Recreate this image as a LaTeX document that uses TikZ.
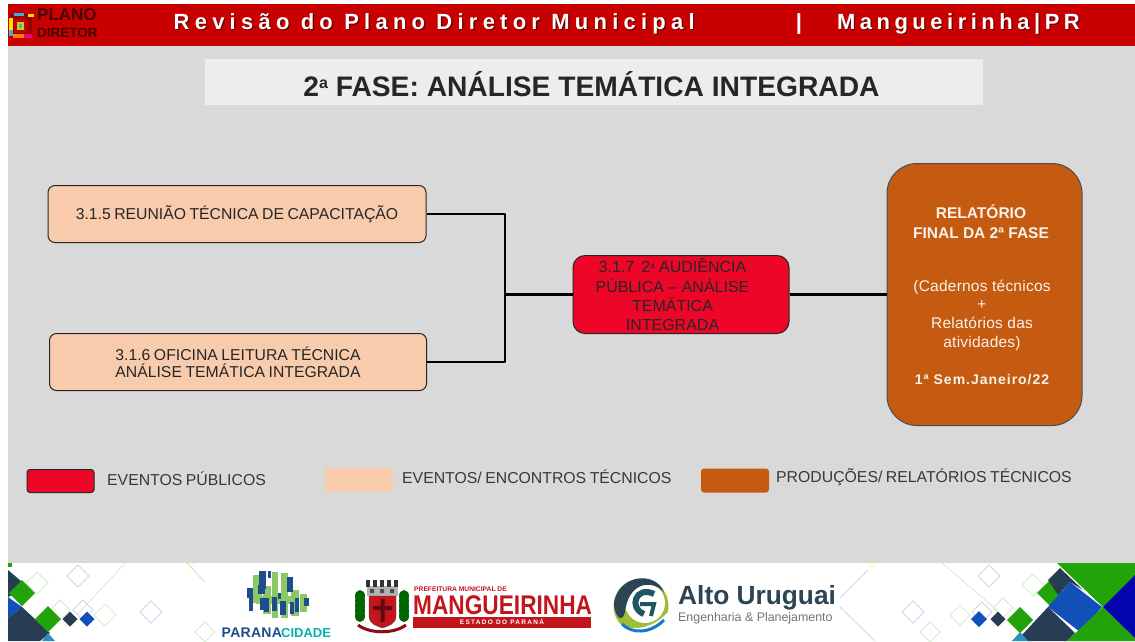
\documentclass[tikz,border=0pt]{standalone}
\usepackage{fontspec}
\setmainfont{Liberation Sans}
\newfontfamily\tightf[WordSpace=0.4]{Liberation Sans}
\newfontfamily\legf[WordSpace=0.8]{Liberation Sans}
\usetikzlibrary{calc}
\definecolor{hdr}{HTML}{C90000}
\definecolor{pg}{HTML}{D9D9D9}
\definecolor{titlebg}{HTML}{EDEDED}
\definecolor{peach}{HTML}{F8CBAD}
\definecolor{redev}{HTML}{EE0628}
\definecolor{rust}{HTML}{C55A11}
\definecolor{dgreen}{HTML}{22A30A}
\definecolor{navy}{HTML}{263D54}
\definecolor{mblue}{HTML}{1150B8}
\definecolor{dblue}{HTML}{0505AE}
\definecolor{lgreen}{HTML}{D5EBCF}
\definecolor{lblue}{HTML}{D2D2F0}
\definecolor{auDark}{HTML}{2D4454}
\definecolor{auGreen}{HTML}{9CBE35}
\definecolor{munRed}{HTML}{C3161C}
\definecolor{pcGreen}{HTML}{8CC866}
\definecolor{pcBlue}{HTML}{1E4C8C}
\tikzset{
 x=1pt,y=-1pt,
 txt/.style={font=\tightf\fontsize{15.75}{17.5}\selectfont,text=black!85,align=center,inner sep=0pt},
 evbox/.style={draw=black!85,line width=1pt,rounded corners=7pt,fill=peach,txt},
 redbox/.style={draw=black!85,line width=1pt,rounded corners=12pt,fill=redev},
 rustbox/.style={draw=black!70,line width=1pt,rounded corners=30pt,fill=rust,inner sep=0pt},
 link/.style={draw=black,line width=2.7pt,line join=round},
 legtxt/.style={font=\legf\fontsize{15.8}{18}\selectfont,text=black!78,anchor=west,inner sep=0pt},
 rusttxt/.style={text=white!92!rust,align=center,inner sep=0pt},
 hdrtxt/.style={font=\bfseries\fontsize{22}{23}\selectfont,inner sep=0pt},
}
\newcommand{\dia}[4]{\path[#4] (#1-#3,#2) -- (#1,#2-#3) -- (#1+#3,#2) -- (#1,#2+#3) -- cycle;}
\begin{document}
\begin{tikzpicture}
\useasboundingbox (0,0) rectangle (1135,641);
\fill[white] (0,0) rectangle (1135,641);
\fill[pg] (8,46) rectangle (1135,563);
\fill[hdr] (8,4) rectangle (1135,46);
% header logo
\fill[red!60!black,rounded corners=3pt] (9,14) rectangle (32,38);
\fill[yellow!85!orange] (9,18) rectangle (13,30);
\fill[cyan!70!gray] (9,30) rectangle (13,36);
\fill[orange] (13,34) rectangle (24,38);
\fill[magenta!70!red] (24,34) rectangle (32,38);
\fill[cyan!70!gray] (14,13) rectangle (24,16);
\fill[yellow!85!orange] (28,14) rectangle (34,17);
\fill[hdr] (14,19) rectangle (27,33);
\fill[yellow!70!green] (17,22) rectangle (24,30);
\fill[cyan!50!gray] (19,24) rectangle (22,28);
\node[font=\bfseries\fontsize{17}{17}\selectfont,text=black!72!red,anchor=west,inner sep=0pt] (lg1) at (37,15) {PLANO};
\node[font=\bfseries\fontsize{13.5}{14}\selectfont,text=black!72!red,anchor=west,inner sep=0pt] (lg2) at (37,33) {DIRETOR};
% header text
\node[hdrtxt,text=black!60!red,anchor=west] at (174.8,25) {\addfontfeature{LetterSpace=23.8}Revisão do Plano Diretor Municipal};
\node[hdrtxt,text=white,anchor=west] (h1) at (173.5,23.8) {\addfontfeature{LetterSpace=23.8}Revisão do Plano Diretor Municipal};
\node[hdrtxt,text=white,anchor=center] (h2) at (799,24) {|};
\node[hdrtxt,text=black!60!red,anchor=west] at (838,25) {\addfontfeature{LetterSpace=20.5}Mangueirinha|PR};
\node[hdrtxt,text=white,anchor=west] (h3) at (836.8,23.8) {\addfontfeature{LetterSpace=20.5}Mangueirinha|PR};
% title
\node[fill=titlebg,minimum width=778pt,minimum height=46pt,inner sep=0pt] (titlebar) at (594,82) {};
\node[font=\bfseries\fontsize{28.2}{30}\selectfont,text=black!85,inner sep=0pt] (title) at (591.5,84) {2\raisebox{.55ex}{\fontsize{16}{16}\selectfont a} FASE: ANÁLISE TEMÁTICA INTEGRADA};
% boxes
\node[evbox,minimum width=378pt,minimum height=57pt] (a) at (237,214) {3.1.5 REUNIÃO TÉCNICA DE CAPACITAÇÃO};
\node[evbox,minimum width=377pt,minimum height=57pt] (b) at (238,362) {3.1.6 OFICINA LEITURA TÉCNICA\\ANÁLISE TEMÁTICA INTEGRADA};
\node[redbox,minimum width=216pt,minimum height=78pt] (c) at (681,294.5) {};
\node[font=\fontsize{16}{19.3}\selectfont,align=center,inner sep=0pt,text=black!85] (ct) at (672.5,295) {3.1.7 \,2\raisebox{.5ex}{\fontsize{8}{8}\selectfont a} AUDIÊNCIA\\PÚBLICA – ANÁLISE\\TEMÁTICA\\INTEGRADA};
\node[rustbox,minimum width=195pt,minimum height=262pt] (d) at (984.5,294.5) {};
\node[rusttxt,font=\bfseries\fontsize{15.5}{20}\selectfont] (d1) at (981,221.5) {RELATÓRIO\\FINAL DA 2ª FASE};
\node[rusttxt,font=\fontsize{15.5}{18.7}\selectfont\addfontfeature{LetterSpace=1.5}] (d2) at (982,315) {(Cadernos técnicos\\+\\Relatórios das\\atividades)};
\node[rusttxt,font=\bfseries\fontsize{14}{16}\selectfont\addfontfeature{LetterSpace=7}] (d3) at (982,380) {1ª Sem.Janeiro/22};
% connectors
\coordinate (j) at (505,294.5);
\draw[link] (a.east) -| (j);
\draw[link] (b.east) -| (j);
\draw[link] (j) -- (c.west);
\draw[link] (c.east) -- (d.west);
% legend
\node[draw=black!85,line width=1pt,rounded corners=3pt,fill=redev,minimum width=67pt,minimum height=23pt,inner sep=0pt] (l1) at (60.5,481) {};
\node[legtxt] (lt1) at (107,479) {EVENTOS PÚBLICOS};
\node[fill=peach,rounded corners=3pt,minimum width=68pt,minimum height=24pt,inner sep=0pt] (l2) at (358.5,479.5) {};
\node[legtxt] (lt2) at (402,477) {EVENTOS/ ENCONTROS TÉCNICOS};
\node[fill=rust,rounded corners=3pt,minimum width=68pt,minimum height=24pt,inner sep=0pt] (l3) at (735,480.5) {};
\node[legtxt] (lt3) at (776,477) {PRODUÇÕES/ RELATÓRIOS TÉCNICOS};
% footer decoration
\begin{scope}
\clip (8,563) rectangle (1135,641);
\foreach \px/\py/\r in {37/583/11,60/610/10,105/615/11,1033/585/11,960/615/10,1003/608/10,205/632/10,930/632/10}{\dia{\px}{\py}{\r}{draw=lgreen,line width=.8pt}}
\foreach \px/\py/\r in {78/576/11,151/612/11,83/610/10,989/576/11,913/612/11,982/612/10}{\dia{\px}{\py}{\r}{draw=lblue,line width=1pt}}
\draw[lgreen,line width=.8pt] (125,563) -- (77,615);
\draw[lgreen,line width=.8pt] (942,563) -- (997,610);
\draw[lblue,line width=.8pt] (187,563) -- (205,582);
\draw[lblue,line width=.8pt] (868,570) -- (840,598);
\draw[lblue,line width=.8pt] (840,607) -- (875,641);
\draw[yellow!40,line width=.8pt] (186,563) -- (190,567) -- (194,563);
\draw[yellow!40,line width=.8pt] (868,563) -- (872,567) -- (876,563);
% left corner
\fill[navy] (8,570) -- (28,587) -- (8,597) -- cycle;
\fill[dgreen] (8,563) rectangle (12,567);
\dia{22}{593}{13}{fill=dgreen}
\fill[mblue] (8,597) -- (22,607) -- (8,618) -- cycle;
\fill[navy] (8,618) -- (22,607) -- (50,633) -- (40,641) -- (8,641) -- cycle;
\dia{48}{619}{13}{fill=dgreen}
\dia{70}{619}{7.5}{fill=navy}
\dia{87}{619}{7.5}{fill=mblue}
\fill[mblue!60!cyan!70!gray] (42,641) -- (48,633) -- (55,641) -- cycle;
% right corner
\dia{979}{619}{8}{fill=mblue}
\dia{998}{619}{7.5}{fill=navy}
\dia{1020}{620}{13}{fill=dgreen}
\dia{1050}{593}{13}{fill=dgreen}
\fill[navy] (1048,580) -- (1060,568) -- (1083,590) -- (1070,582) -- (1058,595) -- cycle;
\fill[navy] (1022,635) -- (1048,607) -- (1075,633) -- (1067,641) -- (1027,641) -- cycle;
\fill[mblue] (1048,607) -- (1070,582) -- (1102,607) -- (1080,632) -- cycle;
\fill[dgreen] (1057,563) -- (1135,563) -- (1135,585) -- (1103,607) -- cycle;
\fill[dgreen] (1067,641) -- (1103,607) -- (1135,638) -- (1135,641) -- cycle;
\fill[dblue] (1103,607) -- (1135,575) -- (1135,638) -- cycle;
\fill[mblue!60!cyan!70!gray] (1012,641) -- (1020,632) -- (1028,641) -- cycle;
\end{scope}
% Parana Cidade logo
\foreach \px/\py/\w/\h in {253/575/9/28,263/586/8/28,272/572/6/46,281/573/7/45,291/590/8/26,300/594/7/18,256/596/38/8}{\fill[pcGreen] (\px,\py) rectangle ++(\w,\h);}
\foreach \px/\py/\w/\h in {259/571/7/18,268/571/3/7,287/577/6/15,247/588/6/10,258/585/7/9,249/597/4/14,260/598/4/12,264/598/5/14,272/597/5/14,280/601/6/14,278/593/3/6,290/602/4/12,295/598/4/14,304/598/5/8}{\fill[pcBlue] (\px,\py) rectangle ++(\w,\h);}
\node[font=\bfseries\fontsize{14}{14}\selectfont\addfontfeature{LetterSpace=2},text=pcBlue,anchor=west,inner sep=0pt] (pc1) at (221.5,633) {PARANA};
\node[font=\bfseries\fontsize{13}{14}\selectfont,text=teal!60!cyan,anchor=west,inner sep=0pt] (pc2) at (281,633) {CIDADE};
% Mangueirinha logo
\foreach \sgn in {-1,1}{
 \foreach \ang in {-60,-30,0,30,60}{
  \fill[green!40!black] ($(382,606)+(\sgn*22,0)+(\sgn*0,\ang/6)$) ellipse (5pt and 6pt);}
}
\draw[munRed!70!black,line width=3pt] (358,625) .. controls (370,634) and (394,634) .. (406,625);
\fill[gray!60] (367,586) rectangle (398,596);
\foreach \px in {366,373,380,387,394}{\fill[gray!40!black] (\px,580) rectangle ++(4,7);}
\fill[black!70] (370,589) rectangle ++(4,4) (380,589) rectangle ++(4,4) (390,589) rectangle ++(4,4);
\path[fill=munRed,draw=black!70] (369,596) -- (396,596) -- (396,616) .. controls (396,624) and (388,626) .. (382.5,628) .. controls (377,626) and (369,624) .. (369,616) -- cycle;
\fill[black!50!munRed] (380.5,599) rectangle (384.5,622) (373,606) rectangle (392,610);
\node[font=\bfseries\fontsize{6.7}{7}\selectfont,text=munRed,anchor=west,inner sep=0pt] (m1) at (414,589) {PREFEITURA MUNICIPAL DE};
\node[font=\bfseries\fontsize{27}{28}\selectfont,text=munRed,anchor=west,inner sep=0pt] (m2) at (413,605.5) {\scalebox{.84}[1]{MANGUEIRINHA}};
\node[fill=munRed,minimum width=178pt,minimum height=11pt,inner sep=0pt,font=\bfseries\fontsize{6.5}{7}\selectfont,text=white] (m3) at (502,622) {\addfontfeature{LetterSpace=20}ESTADO DO PARANÁ};
% Alto Uruguai logo
\fill[auGreen] (641,606) circle (27.5pt);
\fill[white] (645,603) circle (20pt);
\fill[auDark] (614,603) .. controls (618,575) and (655,570) .. (664,592) .. controls (650,578) and (628,584) .. (625,612) .. controls (622,625) and (614,615) .. (614,603) -- cycle;
\draw[auDark!70!teal,line width=6pt] (654,594) .. controls (636,585) and (628,608) .. (644,614);
\draw[auDark!70!teal,line width=4pt] (640,604) -- (654,604) -- (651,616);
\fill[white] (617,622) .. controls (630,632) and (652,630) .. (668,612) -- (668,640) -- (617,640) -- cycle;
\draw[cyan!60!blue,line width=3pt] (622,624) .. controls (632,634) and (650,634) .. (664,620);
\node[font=\bfseries\fontsize{26.3}{28}\selectfont,text=auDark,anchor=west,inner sep=0pt] (au1) at (678,597.5) {Alto Uruguai};
\node[font=\fontsize{12.4}{14}\selectfont,text=black!55,anchor=west,inner sep=0pt] (au2) at (678,618.5) {Engenharia \& Planejamento};
\end{tikzpicture}
\end{document}
